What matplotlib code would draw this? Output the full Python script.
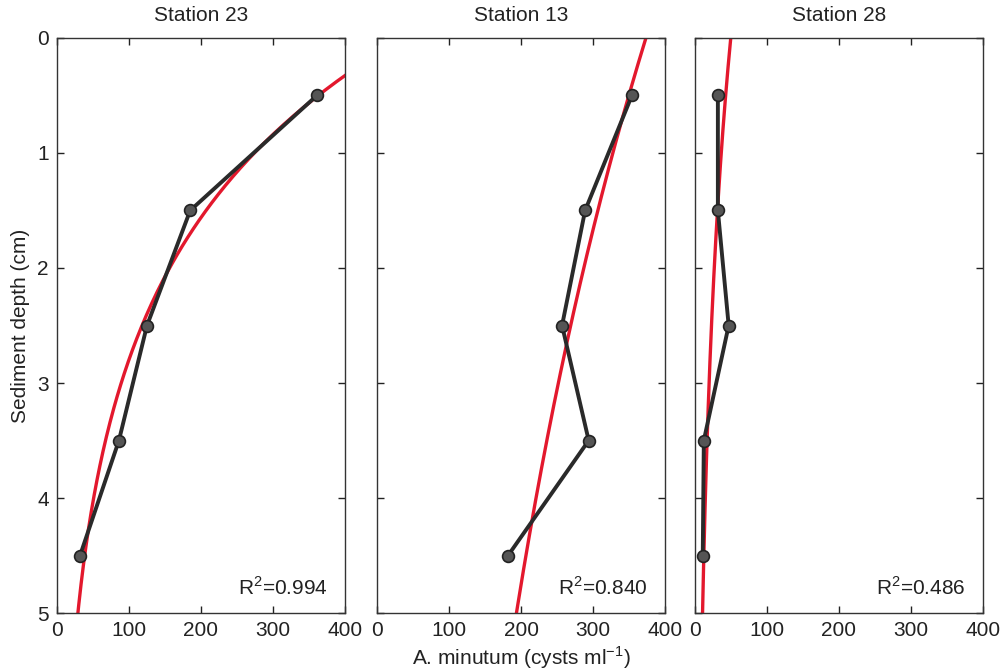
"""Depth profiles of A. minutum cyst concentration at three stations."""

import matplotlib
matplotlib.use("Agg")
import matplotlib.pyplot as plt
import numpy as np

plt.rcParams["font.family"] = ["Liberation Sans", "DejaVu Sans"]
plt.rcParams["mathtext.fontset"] = "custom"
plt.rcParams["mathtext.rm"] = "Liberation Sans"

# Data
depths = [0.5, 1.5, 2.5, 3.5, 4.5]
stations = ["Station 23", "Station 13", "Station 28"]
cysts_st23 = [361, 185, 125, 86, 32]
cysts_st13 = [354, 289, 257, 294, 182]
cysts_st28 = [32, 32, 47, 12.5, 11]
r_squared = ["0.994", "0.840", "0.486"]

x_ticks = [0, 100, 200, 300, 400]
y_ticks = [0, 1, 2, 3, 4, 5]

fig = plt.figure(figsize=(10.07, 6.71), dpi=100)
lefts = [0.0566, 0.3744, 0.690]
width, bottom, height = 0.286, 0.0864, 0.857

profiles = [cysts_st23, cysts_st13, cysts_st28]
depth_grid = np.linspace(0, 5, 200)

for i, (name, cysts, r2) in enumerate(zip(stations, profiles, r_squared)):
    ax = fig.add_axes([lefts[i], bottom, width, height])

    # exponential fit of concentration against depth (log-linear)
    slope, intercept = np.polyfit(depths, np.log(cysts), 1)
    fit = np.exp(intercept + slope * depth_grid)

    ax.plot(fit, depth_grid, color="#e3182d", lw=2.4, zorder=2)
    ax.plot(cysts, depths, color="#2a2a2a", lw=2.8, zorder=3,
            marker="o", markersize=8.5, markerfacecolor="#555555",
            markeredgecolor="#222222", markeredgewidth=1.2)

    ax.set_xlim(0, 400)
    ax.set_ylim(5, 0)
    ax.set_xticks(x_ticks)
    ax.set_yticks(y_ticks)
    ax.tick_params(direction="in", top=True, right=True, length=5,
                   width=1, labelsize=15, colors="#222222", pad=6)
    if i > 0:
        ax.set_yticklabels([])
    for sp in ax.spines.values():
        sp.set_linewidth(1.0)
        sp.set_color("#333333")

    ax.set_title(name, fontsize=15, pad=12, color="#222222")
    ax.text(0.94, 0.025, r"R$^2$=" + r2, transform=ax.transAxes,
            ha="right", va="bottom", fontsize=15, color="#222222")

    if i == 0:
        ax.set_ylabel("Sediment depth (cm)", fontsize=15, color="#222222",
                      labelpad=5)
    if i == 1:
        ax.set_xlabel(r"A. minutum (cysts ml$^{-1}$)", fontsize=15,
                      color="#222222", labelpad=3)

fig.savefig("out.png", dpi=100, facecolor="white")
